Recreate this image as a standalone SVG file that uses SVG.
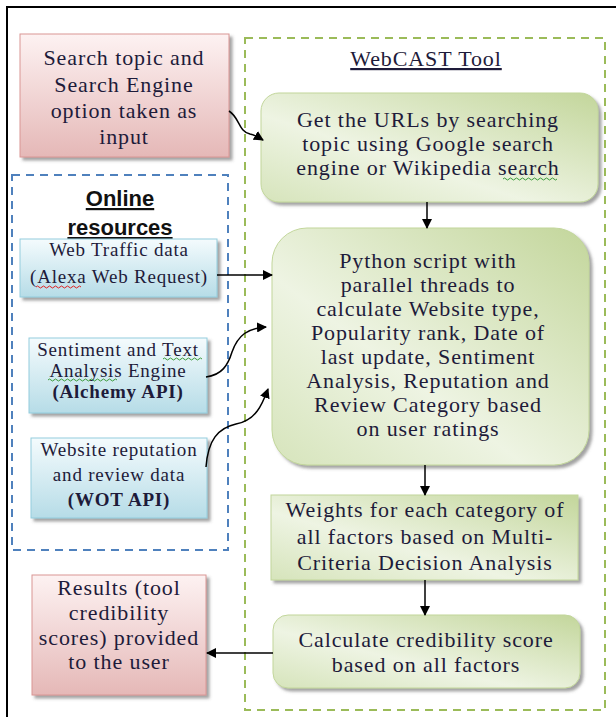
<svg xmlns="http://www.w3.org/2000/svg" width="616" height="717" viewBox="0 0 616 717">
<style>
.t{font-family:"Liberation Serif","Times New Roman",serif;font-size:22px;letter-spacing:0.9px;fill:#1e1b3a;text-anchor:middle}
.s{font-family:"Liberation Serif","Times New Roman",serif;font-size:19px;letter-spacing:0.8px;fill:#1e1b3a;text-anchor:middle}
.b{font-weight:bold}
.h{font-family:"Liberation Sans",Arial,sans-serif;font-size:22px;font-weight:bold;fill:#111;text-anchor:middle;text-decoration:underline}
.pink{fill:url(#gp);stroke:#d99694;stroke-width:1;filter:url(#sh)}
.blue{fill:url(#gb);stroke:#93cddd;stroke-width:1;filter:url(#sh)}
.green{fill:url(#gg);stroke:#c2d69b;stroke-width:1;filter:url(#sh)}
.ln{fill:none;stroke:#000;stroke-width:1.5;marker-end:url(#ah)}
.sq{fill:none;stroke-width:1}
</style>
<defs>
<linearGradient id="gp" x1="0" y1="0" x2="0" y2="1"><stop offset="0" stop-color="#fdf2f2"/><stop offset="1" stop-color="#e5b8b7"/></linearGradient>
<linearGradient id="gb" x1="0" y1="0" x2="0" y2="1"><stop offset="0" stop-color="#f4fbfd"/><stop offset="1" stop-color="#b6dce7"/></linearGradient>
<linearGradient id="gg" x1="0" y1="1" x2="1" y2="0"><stop offset="0" stop-color="#d6e4bb"/><stop offset="0.4" stop-color="#eef4e3"/><stop offset="1" stop-color="#c3d69b"/></linearGradient>
<filter id="sh" x="-10%" y="-10%" width="125%" height="130%"><feDropShadow dx="3" dy="3" stdDeviation="1.5" flood-color="#666" flood-opacity="0.6"/></filter>
<marker id="ah" viewBox="0 0 10 10" refX="9" refY="5" markerWidth="10" markerHeight="10" markerUnits="userSpaceOnUse" orient="auto"><path d="M0,0 L10,5 L0,10 z" fill="#000"/></marker>
</defs>

<g id="frame">
<line x1="6" y1="7" x2="616" y2="7" stroke="#000" stroke-width="2"/>
<line x1="7" y1="6" x2="7" y2="717" stroke="#000" stroke-width="2"/>
</g>

<g id="webcast-tool">
<rect x="245" y="38" width="360" height="672" fill="none" stroke="#9bbb59" stroke-width="2" stroke-dasharray="8,6"/>
<text class="t" x="426" y="66" text-decoration="underline">WebCAST Tool</text>
</g>

<g id="online-resources">
<rect x="12" y="175" width="216" height="375" fill="none" stroke="#4f81bd" stroke-width="2" stroke-dasharray="8,6"/>
<text class="h" x="120" y="206">Online</text>
<text class="h" x="120" y="235">resources</text>
</g>

<g id="input">
<rect class="pink" x="20" y="34" width="209" height="123"/>
<text class="t" x="124" y="65">Search topic and</text>
<text class="t" x="124" y="92">Search Engine</text>
<text class="t" x="124" y="118">option taken as</text>
<text class="t" x="124" y="144">input</text>
</g>

<g id="get-urls">
<rect class="green" x="261" y="93" width="337" height="109" rx="18"/>
<text class="t" x="428" y="127">Get the URLs by searching</text>
<text class="t" x="428" y="151">topic using Google  search</text>
<text class="t" x="428" y="175">engine or Wikipedia  search</text>
<path class="sq" stroke="#3a9a3a" d="M503,179 q1.5,-2 3,0 t3,0 t3,0 t3,0 t3,0 t3,0 t3,0 t3,0 t3,0 t3,0 t3,0 t3,0 t3,0 t3,0 t3,0 t3,0 t3,0 t3,0"/>
</g>

<g id="web-traffic">
<rect class="blue" x="20" y="239" width="197" height="58"/>
<text class="s" x="119" y="256">Web Traffic data</text>
<text class="s" x="119" y="283">(Alexa Web Request)</text>
<path class="sq" stroke="#e02020" d="M36,287 q1.5,-2 3,0 t3,0 t3,0 t3,0 t3,0 t3,0 t3,0 t3,0 t3,0 t3,0 t3,0 t3,0 t3,0 t3,0 t3,0"/>
</g>

<g id="sentiment">
<rect class="blue" x="29" y="338" width="178" height="75"/>
<text class="s" x="118" y="356">Sentiment and Text</text>
<text class="s" x="118" y="377">Analysis Engine</text>
<text class="s b" x="118" y="398">(Alchemy API)</text>
<path class="sq" stroke="#3a9a3a" d="M163,359 q1.5,-2 3,0 t3,0 t3,0 t3,0 t3,0 t3,0 t3,0 t3,0 t3,0 t3,0 t3,0 t3,0 t3,0"/>
<path class="sq" stroke="#3a9a3a" d="M48,380 q1.5,-2 3,0 t3,0 t3,0 t3,0 t3,0 t3,0 t3,0 t3,0 t3,0 t3,0 t3,0 t3,0 t3,0 t3,0 t3,0 t3,0 t3,0 t3,0 t3,0 t3,0 t3,0 t3,0 t3,0"/>
</g>

<g id="wot">
<rect class="blue" x="31" y="438" width="176" height="80"/>
<text class="s" x="119" y="456">Website reputation</text>
<text class="s" x="119" y="481">and review data</text>
<text class="s b" x="119" y="506">(WOT API)</text>
</g>

<g id="python">
<rect class="green" x="272" y="228" width="317" height="237" rx="35"/>
<text class="t" x="428" y="268">Python script with</text>
<text class="t" x="428" y="292">parallel threads to</text>
<text class="t" x="428" y="316">calculate Website type,</text>
<text class="t" x="428" y="340">Popularity rank, Date of</text>
<text class="t" x="428" y="364">last update, Sentiment</text>
<text class="t" x="428" y="388">Analysis, Reputation and</text>
<text class="t" x="428" y="412">Review Category based</text>
<text class="t" x="428" y="436">on user ratings</text>
</g>

<g id="weights">
<rect class="green" x="271" y="495" width="307" height="85"/>
<text class="t" x="425" y="517">Weights  for each category of</text>
<text class="t" x="425" y="544">all factors based on Multi-</text>
<text class="t" x="425" y="570">Criteria Decision  Analysis</text>
</g>

<g id="calculate">
<rect class="green" x="273" y="615" width="307" height="73" rx="15"/>
<text class="t" x="426" y="647">Calculate credibility score</text>
<text class="t" x="426" y="672">based on all factors</text>
</g>

<g id="results">
<rect class="pink" x="32" y="575" width="174" height="120"/>
<text class="t" x="119" y="595">Results (tool</text>
<text class="t" x="119" y="620">credibility</text>
<text class="t" x="119" y="645">scores) provided</text>
<text class="t" x="119" y="669">to the user</text>
</g>

<g id="connectors">
<path class="ln" d="M229,111 C240,118 238,131 250,134 C255,135 258,137 263,140"/>
<path class="ln" d="M427,202 L427,228"/>
<path class="ln" d="M217,275 L272,275"/>
<path class="ln" d="M206,377 C222,375 228,365 232,352 C238,335 248,328 266,327"/>
<path class="ln" d="M206,467 C208,440 218,428 236,424 C256,420 262,405 268,389"/>
<path class="ln" d="M425,465 L425,495"/>
<path class="ln" d="M425,580 L425,615"/>
<path class="ln" d="M273,653 L207,653"/>
</g>
</svg>
